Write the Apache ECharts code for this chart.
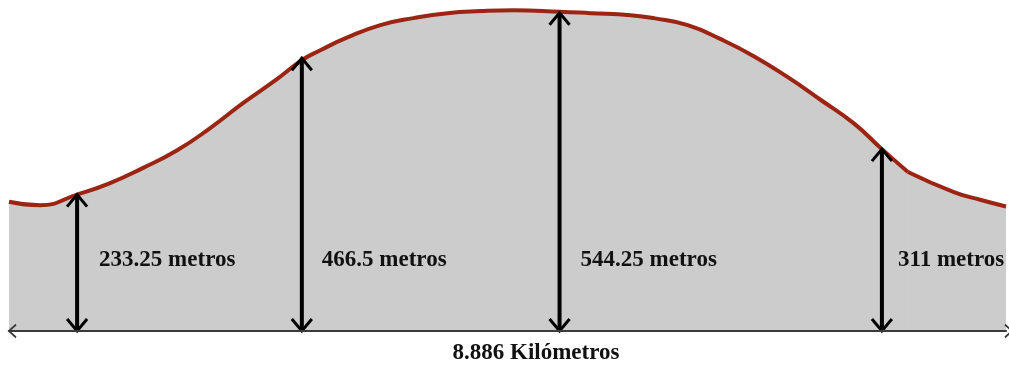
<!DOCTYPE html>
<html>
<head>
<meta charset="utf-8">
<script src="https://cdn.jsdelivr.net/npm/echarts@6/dist/echarts.min.js"></script>
<style>
html,body{margin:0;padding:0;background:#fff;}
#c{width:1009px;height:367px;}
</style>
</head>
<body>
<div id="c"></div>
<script>
// Terrain profile: distance (km) and elevation (m)
const profileKmA = [0, 0.277, 0.607, 0.901, 1.196, 1.499, 1.793, 2.088, 2.391, 2.610, 2.775, 3.016, 3.310, 3.604, 3.908, 4.202, 4.497, 4.907, 5.184, 5.541, 5.746, 6.049, 6.344, 6.638, 6.941, 7.236, 7.530, 7.780, 8.012];
const profileMA  = [221, 215, 233.25, 253, 279, 309, 347, 390, 431, 463, 480, 502, 523, 535, 543.5, 547, 548.5, 546, 543.5, 540, 535, 523, 499, 470, 434, 395, 355, 311, 272];
const profileKmB = [8.012, 8.422, 8.663, 8.886];
const profileMB  = [272, 237.6, 224, 213];

// Measured heights
const arrowKm = [0.607, 2.610, 4.907, 7.780];
const arrowM  = [233.25, 466.5, 544.25, 311];
const arrowLabels = ['233.25 metros', '466.5 metros', '544.25 metros', '311 metros'];

const totalKm = 8.886;
const axisTitle = '8.886 Kilómetros';

// layout / style constants
const labelGap = [22, 20, 21, 16];
const labelHeightM = 121;
const FONT = 'bold 23px "Liberation Serif", "Times New Roman", serif';

const chart = echarts.init(document.getElementById('c'), null, {renderer: 'canvas'});

const lineColor = '#9B2412';
const fillColor = '#cccccc';

function curveSeries(kms, ms) {
  return {
    type: 'line',
    data: kms.map((k, i) => [k, ms[i]]),
    smooth: 0.5,
    showSymbol: false,
    symbol: 'none',
    lineStyle: {color: lineColor, width: 4},
    areaStyle: {color: fillColor, opacity: 1},
    z: 2,
    silent: true
  };
}

const chevron = 'path://M0,9 L8,0 L16,9 L14.2,10 L8,3 L1.8,10 Z';

chart.setOption({
  animation: false,
  grid: {left: 9, right: 3, top: 0, bottom: 36, containLabel: false, outerBoundsMode: 'none'},
  xAxis: {
    type: 'value',
    min: 0,
    max: totalKm,
    z: 5,
    splitLine: {show: false},
    axisTick: {show: false},
    axisLabel: {show: false},
    axisLine: {
      show: true,
      lineStyle: {color: '#3a3a3a', width: 2},
      symbol: [chevron, chevron],
      symbolSize: [15, 9],
      symbolOffset: [3, 3]
    },
    name: axisTitle,
    nameLocation: 'middle',
    nameGap: 11,
    nameTextStyle: {
      fontFamily: '"Liberation Serif", "Times New Roman", serif',
      fontWeight: 'bold',
      fontSize: 23,
      color: '#111',
      padding: [0, 0, 0, 57]
    }
  },
  yAxis: {
    type: 'value',
    min: 0,
    max: 566,
    show: false,
    splitLine: {show: false}
  },
  series: [
    curveSeries(profileKmA, profileMA),
    curveSeries(profileKmB, profileMB),
    {
      type: 'custom',
      z: 4,
      clip: false,
      silent: true,
      data: arrowKm.map((k, i) => [k, arrowM[i]]),
      encode: {x: 0, y: 1},
      renderItem: function (params, api) {
        const i = params.dataIndex;
        const base = api.coord([api.value(0), 0]);
        const top = api.coord([api.value(0), api.value(1)]);
        const lab = api.coord([api.value(0), labelHeightM]);
        const x = base[0];
        const hw = 10, hd = 12;
        const st = {stroke: '#000', lineWidth: 3, fill: null};
        return {
          type: 'group',
          children: [
            {type: 'line', shape: {x1: x, y1: top[1] + 2, x2: x, y2: base[1] - 2}, style: {stroke: '#000', lineWidth: 4}},
            {type: 'polyline', shape: {points: [[x - hw, top[1] + hd], [x, top[1]], [x + hw, top[1] + hd]]}, style: st},
            {type: 'polyline', shape: {points: [[x - hw, base[1] - hd], [x, base[1]], [x + hw, base[1] - hd]]}, style: st},
            {type: 'text', x: x + labelGap[i], y: lab[1],
              style: {text: arrowLabels[i], font: FONT, fill: '#111', align: 'left', verticalAlign: 'middle'}}
          ]
        };
      }
    }
  ]
});
</script>
</body>
</html>
